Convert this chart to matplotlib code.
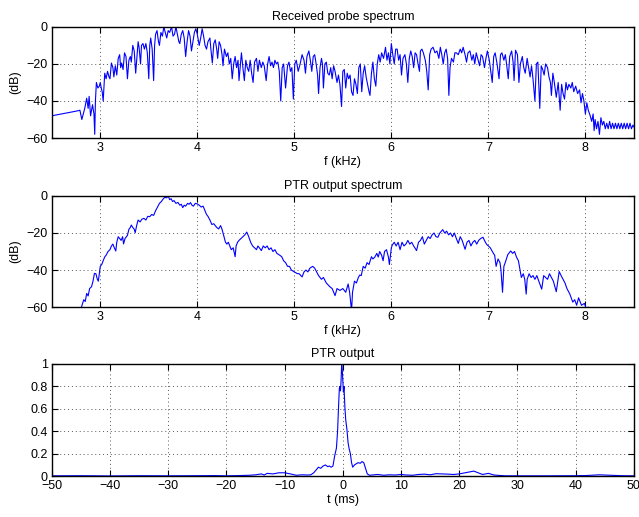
import matplotlib.pyplot as plt
from matplotlib.ticker import FuncFormatter

plt.rcParams['font.family'] = ['Liberation Sans', 'DejaVu Sans']
plt.rcParams['font.size'] = 9

# Received probe spectrum (kHz, dB)
f_rx = [2.50, 2.55, 2.60, 2.65, 2.70, 2.75, 2.79, 2.81, 2.84, 2.86, 2.875, 2.885, 2.90, 2.92, 2.935, 2.943,
        2.95, 2.96, 2.975, 2.99, 3.00, 3.01, 3.02, 3.03, 3.046, 3.06, 3.075, 3.09, 3.10, 3.115, 3.13, 3.14,
        3.155, 3.17, 3.185, 3.20, 3.21, 3.22, 3.235, 3.25, 3.265, 3.28, 3.295, 3.31, 3.32, 3.335, 3.35, 3.365,
        3.38, 3.39, 3.40, 3.415, 3.425, 3.44, 3.455, 3.47, 3.485, 3.50, 3.51, 3.52, 3.535, 3.55, 3.56, 3.57,
        3.585, 3.60, 3.61, 3.625, 3.64, 3.655, 3.67, 3.685, 3.70, 3.715, 3.735, 3.75, 3.765, 3.78, 3.795, 3.81,
        3.82, 3.835, 3.85, 3.865, 3.88, 3.895, 3.91, 3.925, 3.94, 3.955, 3.97, 3.985, 4.00, 4.02, 4.035, 4.05,
        4.065, 4.08, 4.095, 4.11, 4.13, 4.14, 4.155, 4.17, 4.185, 4.20, 4.21, 4.225, 4.24, 4.255, 4.265, 4.28,
        4.30, 4.315, 4.33, 4.345, 4.36, 4.375, 4.39, 4.405, 4.42, 4.43, 4.445, 4.455, 4.47, 4.485, 4.50, 4.515,
        4.53, 4.545, 4.56, 4.575, 4.59, 4.61, 4.625, 4.64, 4.66, 4.675, 4.69, 4.71, 4.725, 4.74, 4.755, 4.77,
        4.785, 4.80, 4.815, 4.83, 4.845, 4.86, 4.875, 4.89, 4.91, 4.93, 4.945, 4.96, 4.975, 4.99, 5.005, 5.02,
        5.04, 5.06, 5.08, 5.10, 5.115, 5.13, 5.15, 5.165, 5.18, 5.195, 5.21, 5.225, 5.24, 5.25, 5.265, 5.28,
        5.29, 5.30, 5.315, 5.33, 5.345, 5.36, 5.375, 5.39, 5.405, 5.42, 5.44, 5.455, 5.47, 5.487, 5.50, 5.515,
        5.53, 5.545, 5.56, 5.575, 5.59, 5.605, 5.62, 5.635, 5.65, 5.665, 5.68, 5.695, 5.71, 5.725, 5.74, 5.755,
        5.77, 5.78, 5.795, 5.81, 5.825, 5.84, 5.855, 5.87, 5.885, 5.90, 5.92, 5.94, 5.955, 5.97, 5.985, 6.00,
        6.015, 6.03, 6.045, 6.06, 6.075, 6.09, 6.105, 6.12, 6.14, 6.155, 6.17, 6.185, 6.20, 6.215, 6.23, 6.245,
        6.26, 6.275, 6.29, 6.30, 6.315, 6.33, 6.35, 6.365, 6.38, 6.395, 6.41, 6.43, 6.45, 6.47, 6.49, 6.505,
        6.52, 6.535, 6.55, 6.565, 6.58, 6.593, 6.605, 6.62, 6.64, 6.655, 6.67, 6.69, 6.71, 6.725, 6.74, 6.76,
        6.775, 6.79, 6.81, 6.83, 6.845, 6.86, 6.875, 6.89, 6.91, 6.925, 6.94, 6.96, 6.975, 6.99, 7.01, 7.025,
        7.04, 7.055, 7.07, 7.09, 7.11, 7.125, 7.14, 7.16, 7.175, 7.19, 7.205, 7.22, 7.24, 7.255, 7.265, 7.28,
        7.30, 7.315, 7.33, 7.35, 7.365, 7.38, 7.40, 7.415, 7.43, 7.445, 7.46, 7.48, 7.495, 7.51, 7.53, 7.545,
        7.56, 7.575, 7.59, 7.61, 7.625, 7.64, 7.65, 7.665, 7.68, 7.70, 7.72, 7.74, 7.755, 7.77, 7.785, 7.80,
        7.815, 7.83, 7.85, 7.865, 7.88, 7.90, 7.92, 7.94, 7.955, 7.97, 7.985, 8.00, 8.015, 8.03, 8.05, 8.065,
        8.08, 8.09, 8.10, 8.115, 8.13, 8.145, 8.16, 8.175, 8.19, 8.205, 8.22, 8.235, 8.25, 8.265, 8.28, 8.295,
        8.31, 8.325, 8.34, 8.355, 8.37, 8.385, 8.40, 8.415, 8.43, 8.445, 8.46, 8.475, 8.49, 8.50]
db_rx = [-48, -47.5, -47, -46.5, -46, -45.5, -45, -50, -44, -38.5, -44, -37.5, -48, -42, -47, -58,
         -40, -30, -33, -32, -30, -33, -35, -40, -25, -28, -24, -27, -28, -19.5, -22, -27,
         -21, -26, -17, -15, -22, -19.5, -23, -14, -16, -28, -18, -16, -19, -10, -13, -25,
         -15, -8, -11, -20, -10, -9, -12, -9, -14, -28, -10, -6, -12, -29, -10, -4,
         -2, -8, -10, -3, -5, 0, -3, -6, -2, -3, 0, -5, -4, 0, -4, -8,
         -9, -4, -2, -6, -16, -8, -2, -5, -13, -8, -3, -1, -4, -10, -6, -1,
         -5, -10, -12, -8, -6, -12, -19.5, -9, -7, -12, -17, -8, -10, -15, -21, -12,
         -16, -14, -20, -17, -28, -20, -16, -22, -18, -29, -20, -14, -22, -29, -18, -22,
         -24, -18, -25, -30, -19, -17, -24, -18, -22, -19, -21, -29, -20, -16, -21, -19,
         -22, -18, -20, -19, -24, -40, -22, -20, -33, -21, -19, -24, -22, -39, -20, -18,
         -24, -20, -15, -18, -25, -16, -13, -18, -24, -16, -15, -20, -26, -36, -22, -17,
         -20, -33, -20, -19, -25, -26, -22, -28, -21, -24, -30, -26, -31, -43, -24, -23,
         -33, -25, -28, -26, -35, -37, -28, -31, -36, -22, -20, -35, -25, -21, -27, -31,
         -35, -37, -25, -19, -28, -32, -20, -15, -19, -14, -17, -11, -18, -14, -20, -9,
         -15, -20, -12, -12, -18, -15, -26, -17, -15, -20, -30, -17, -13, -16, -22, -14,
         -15, -20, -24, -13, -12, -14, -18, -24, -34, -15, -12, -11, -14, -13, -17, -11,
         -15, -20, -14, -12, -17, -37, -22, -17, -19, -14, -14, -15, -12, -14, -11, -15,
         -19, -14, -13, -18, -15, -20, -14, -17, -21, -15, -16, -22, -17, -13, -18, -24,
         -30, -16, -14, -20, -28, -15, -14, -18, -15, -21, -28, -16, -13, -19, -29, -12.6,
         -15, -30, -20, -16, -22, -25, -17, -22, -27, -21, -28, -40, -20, -19, -44, -21,
         -23, -26, -20, -22, -27, -30, -37, -25, -30, -38, -30, -45, -31, -36, -39, -30,
         -34, -31, -33, -30, -35, -32, -36, -34, -41, -36, -40, -47, -41, -45, -48, -51,
         -47, -56, -50, -55, -51, -58, -49, -53, -51, -55, -52, -55, -51, -55, -52, -55,
         -52, -55, -52, -55, -52, -55, -52, -55, -52, -55, -52, -55, -53, -54]

# PTR output spectrum (kHz, dB)
f_ptr = [2.78, 2.806, 2.83, 2.845, 2.86, 2.875, 2.89, 2.91, 2.925, 2.94, 2.955, 2.97, 2.98, 3.00, 3.015, 3.03,
         3.045, 3.06, 3.08, 3.10, 3.115, 3.13, 3.145, 3.16, 3.17, 3.185, 3.20, 3.215, 3.23, 3.24, 3.255, 3.27,
         3.28, 3.295, 3.31, 3.32, 3.335, 3.35, 3.36, 3.375, 3.39, 3.41, 3.43, 3.45, 3.47, 3.49, 3.51, 3.53,
         3.55, 3.57, 3.59, 3.61, 3.63, 3.65, 3.665, 3.685, 3.70, 3.715, 3.73, 3.745, 3.76, 3.78, 3.80, 3.82,
         3.835, 3.85, 3.865, 3.88, 3.90, 3.915, 3.93, 3.945, 3.96, 3.98, 4.00, 4.02, 4.04, 4.06, 4.08, 4.095,
         4.11, 4.13, 4.15, 4.17, 4.185, 4.20, 4.22, 4.24, 4.255, 4.27, 4.29, 4.305, 4.32, 4.335, 4.35, 4.37,
         4.39, 4.40, 4.415, 4.43, 4.45, 4.47, 4.49, 4.51, 4.53, 4.55, 4.57, 4.59, 4.61, 4.625, 4.64, 4.66,
         4.68, 4.70, 4.72, 4.74, 4.76, 4.78, 4.80, 4.82, 4.85, 4.87, 4.89, 4.91, 4.93, 4.95, 4.97, 5.00,
         5.03, 5.05, 5.08, 5.10, 5.12, 5.14, 5.16, 5.19, 5.21, 5.23, 5.25, 5.28, 5.30, 5.33, 5.366, 5.39,
         5.42, 5.44, 5.47, 5.50, 5.53, 5.555, 5.57, 5.59, 5.60, 5.62, 5.64, 5.66, 5.675, 5.69, 5.71, 5.73,
         5.75, 5.77, 5.795, 5.81, 5.83, 5.85, 5.865, 5.88, 5.90, 5.915, 5.93, 5.95, 5.97, 5.98, 6.00, 6.01,
         6.03, 6.05, 6.07, 6.09, 6.11, 6.13, 6.15, 6.17, 6.19, 6.21, 6.23, 6.26, 6.28, 6.30, 6.32, 6.34,
         6.36, 6.38, 6.40, 6.42, 6.44, 6.46, 6.48, 6.50, 6.53, 6.55, 6.57, 6.59, 6.61, 6.63, 6.65, 6.67,
         6.69, 6.71, 6.73, 6.76, 6.78, 6.80, 6.82, 6.84, 6.86, 6.88, 6.90, 6.92, 6.945, 6.96, 6.98, 7.00,
         7.02, 7.05, 7.065, 7.08, 7.10, 7.12, 7.13, 7.146, 7.16, 7.18, 7.20, 7.23, 7.25, 7.27, 7.29, 7.31,
         7.34, 7.36, 7.375, 7.39, 7.40, 7.42, 7.44, 7.46, 7.48, 7.50, 7.52, 7.55, 7.57, 7.59, 7.61, 7.63,
         7.65, 7.67, 7.70, 7.73, 7.75, 7.77, 7.79, 7.81, 7.84, 7.87, 7.89, 7.91, 7.93, 7.96, 7.99, 8.01,
         8.03, 8.05]
db_ptr = [-64, -60, -56, -57, -52.6, -54, -50, -49, -46, -41.8, -42, -45, -46, -38, -37, -35,
          -33, -32, -30, -29, -27, -26, -28, -29.7, -25, -22, -23, -24, -22, -25.9, -23, -22,
          -21.3, -18, -17, -15.7, -17, -18, -19.8, -16, -13, -14, -12.5, -12.1, -13, -11, -11.2, -10,
          -10.5, -8, -6, -4, -3, -1.5, -0.8, -1, 0, -2, -1.5, -3, -2.5, -4, -3.5, -5,
          -4.5, -6.3, -5, -5.5, -4, -4.5, -3.6, -5, -5.5, -4, -4.3, -5, -6, -5.5, -8, -10,
          -11, -13, -15.4, -15, -16, -17, -17.8, -16, -18, -21, -24.9, -26, -25, -27, -29, -28,
          -32.8, -27, -25, -24, -23, -22, -21, -19.5, -22, -25, -27, -28, -29, -27, -28, -29.5,
          -27, -28, -27, -29, -28, -30, -29, -31, -32, -32.8, -35, -36, -38, -38, -40, -41,
          -41.9, -42, -43.7, -41, -40, -41, -39, -38, -39, -41, -43, -45, -44, -47, -49, -50,
          -53.8, -50, -51, -50, -52, -47.5, -52, -62, -52, -46, -47, -44, -42.7, -43, -38, -39,
          -36, -37, -32.8, -34, -33, -31, -33, -30, -32, -35, -30, -29, -33, -37, -28, -26.5,
          -25, -27, -25, -29, -25, -27, -26, -24, -26, -25, -27, -29.5, -25, -24, -22, -26,
          -24, -22, -23, -21, -20, -22, -22.3, -20, -18.2, -20, -19, -21, -20, -22, -20, -23,
          -25.6, -22, -24, -28.8, -25, -24, -27, -25, -24, -26, -24, -23, -22.3, -24, -26, -27,
          -28, -30.8, -32, -38, -34, -36, -40, -52, -38, -35, -31.7, -29.7, -31, -30, -33, -35,
          -44, -42, -45, -53, -45, -42, -44, -43, -45, -43, -46, -50.3, -43, -44, -45, -42,
          -44, -46, -51.7, -40.8, -43, -45, -47, -50, -53, -57.3, -56, -59, -55, -59, -58, -61,
          -60, -63]

# PTR output in time (ms, normalized)
t_ms = [-50, -45, -40, -35, -30, -25, -22, -20, -18, -16, -15, -14, -13.5, -13, -12, -11,
        -10, -9, -8, -7, -6, -5.5, -5, -4.5, -4.2, -3.8, -3.4, -3, -2.6, -2.3, -2, -1.7,
        -1.4, -1.1, -0.9, -0.75, -0.6, -0.5, -0.4, -0.3, -0.2, -0.1, 0, 0.1, 0.2, 0.35,
        0.5, 0.7, 0.9, 1.1, 1.3, 1.5, 1.7, 2, 2.3, 2.6, 3, 3.3, 3.6, 3.9, 4.2, 4.6,
        5, 6, 7, 8, 9, 10, 11, 12, 13, 14, 15, 16, 17, 18, 19, 20,
        21, 22, 22.5, 23, 24, 25, 26, 27, 28, 30, 35, 40, 42, 44, 46, 48, 50]
ptr_out = [0.003, 0.004, 0.002, 0.004, 0.003, 0.004, 0.005, 0.003, 0.005, 0.008, 0.012, 0.02, 0.01, 0.025, 0.02, 0.03,
           0.03, 0.02, 0.008, 0.012, 0.01, 0.012, 0.03, 0.06, 0.08, 0.07, 0.09, 0.1, 0.085, 0.09, 0.08, 0.09,
           0.18, 0.25, 0.4, 0.6, 0.78, 0.8, 0.76, 0.85, 1.0, 0.95, 0.85, 0.75, 0.8, 0.62,
           0.5, 0.42, 0.3, 0.24, 0.2, 0.12, 0.08, 0.1, 0.11, 0.12, 0.115, 0.13, 0.12, 0.07, 0.02, 0.008,
           0.01, 0.015, 0.008, 0.012, 0.01, 0.015, 0.01, 0.008, 0.015, 0.018, 0.012, 0.022, 0.02, 0.018, 0.015, 0.02,
           0.03, 0.04, 0.045, 0.035, 0.015, 0.025, 0.01, 0.006, 0.003, 0.003, 0.003, 0.004, 0.006, 0.012, 0.008, 0.004, 0.003]

fig = plt.figure(figsize=(6.39, 5.17), dpi=100)
ax1 = fig.add_axes([0.081, 0.733, 0.911, 0.215])
ax2 = fig.add_axes([0.081, 0.406, 0.911, 0.215])
ax3 = fig.add_axes([0.081, 0.079, 0.911, 0.217])


def style(ax):
    # MATLAB-like look: dotted grid, ticks inside on all sides
    ax.grid(True, linestyle=(0, (1, 3)), color='0.35', linewidth=0.7)
    ax.tick_params(direction='in', top=True, right=True, length=4, width=0.8, pad=3)
    for s in ax.spines.values():
        s.set_linewidth(1.0)


ax1.plot(f_rx, db_rx, color='blue', linewidth=0.8)
ax1.set_xlim(2.5, 8.5)
ax1.set_ylim(-60, 0)
ax1.set_yticks([-60, -40, -20, 0])
ax1.set_xticks([3, 4, 5, 6, 7, 8])
ax1.set_xlabel('f (kHz)', labelpad=1)
ax1.set_ylabel('(dB)')
ax1.set_title('Received probe spectrum', fontsize=9, pad=5)
style(ax1)

ax2.plot(f_ptr, db_ptr, color='blue', linewidth=0.8)
ax2.set_xlim(2.5, 8.5)
ax2.set_ylim(-60, 0)
ax2.set_yticks([-60, -40, -20, 0])
ax2.set_xticks([3, 4, 5, 6, 7, 8])
ax2.set_xlabel('f (kHz)', labelpad=1)
ax2.set_ylabel('(dB)')
ax2.set_title('PTR output spectrum', fontsize=9, pad=5)
style(ax2)

ax3.plot(t_ms, ptr_out, color='blue', linewidth=0.8)
ax3.set_xlim(-50, 50)
ax3.set_ylim(0, 1)
ax3.set_xticks(range(-50, 51, 10))
ax3.set_yticks([0, 0.2, 0.4, 0.6, 0.8, 1])
ax3.yaxis.set_major_formatter(FuncFormatter(lambda v, p: f'{v:g}'))
ax3.set_xlabel('t (ms)', labelpad=1)
ax3.set_title('PTR output', fontsize=9, pad=5)
style(ax3)

fig.savefig('out.png', dpi=100)
